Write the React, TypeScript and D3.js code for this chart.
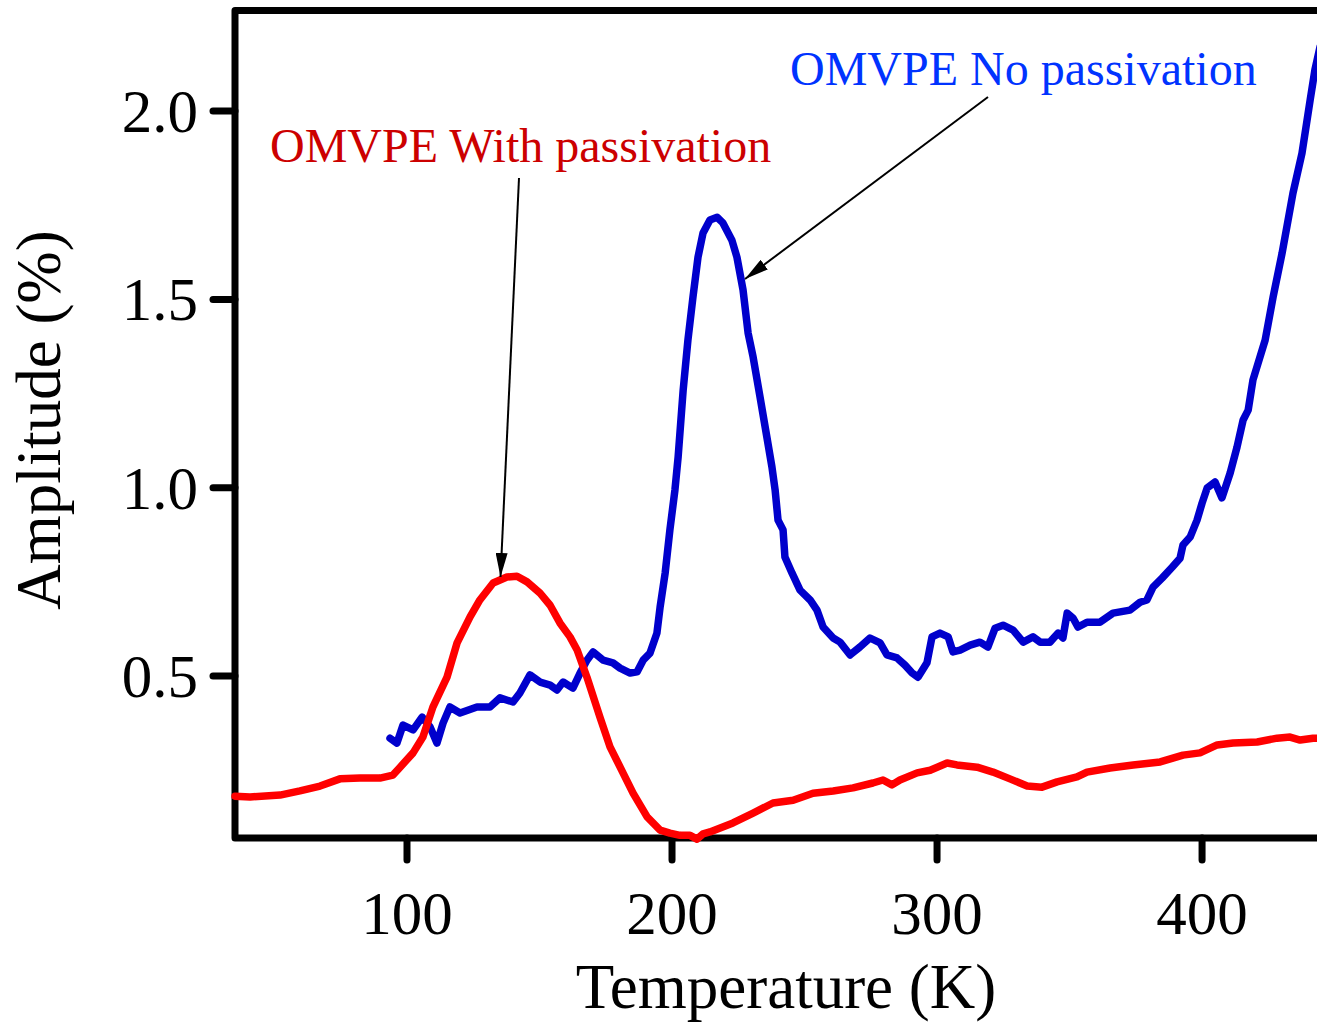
import React from "react";
import * as d3 from "d3";

// Temperature (K) and amplitude (%) for the sample WITH passivation (red)
const withT = [35.1, 40.8, 52.1, 59.6, 67.2, 74.7, 82.3, 89.8, 94.7, 97.4, 102.3, 106.0, 109.8, 115.1, 118.9, 123.8, 127.5, 132.5, 137.7, 141.5, 145.3, 150.2, 154.0, 157.7, 161.5, 164.2, 167.9, 172.8, 176.6, 181.5, 185.3, 190.6, 195.5, 199.2, 203.0, 206.8, 209.4, 211.7, 214.3, 223.0, 230.6, 238.1, 245.7, 253.2, 260.8, 268.3, 275.8, 279.6, 283.0, 286.0, 292.5, 297.4, 303.8, 307.5, 315.1, 321.1, 327.5, 334.0, 339.6, 345.3, 352.8, 356.6, 365.3, 374.0, 384.2, 392.8, 399.2, 405.7, 411.7, 420.8, 428.3, 433.2, 437.0, 441.9, 445.0];
const withA = [0.181, 0.179, 0.184, 0.195, 0.208, 0.227, 0.229, 0.229, 0.237, 0.258, 0.296, 0.338, 0.418, 0.497, 0.588, 0.657, 0.702, 0.747, 0.763, 0.765, 0.750, 0.720, 0.688, 0.641, 0.604, 0.569, 0.497, 0.391, 0.312, 0.243, 0.189, 0.126, 0.091, 0.083, 0.077, 0.077, 0.067, 0.081, 0.086, 0.110, 0.136, 0.163, 0.170, 0.189, 0.195, 0.203, 0.216, 0.224, 0.211, 0.224, 0.243, 0.250, 0.269, 0.264, 0.258, 0.245, 0.227, 0.208, 0.205, 0.219, 0.232, 0.245, 0.256, 0.264, 0.272, 0.290, 0.296, 0.317, 0.322, 0.325, 0.335, 0.338, 0.330, 0.335, 0.335];

// Temperature (K) and amplitude (%) for the sample with NO passivation (blue)
const noT = [93.6, 96.2, 98.5, 102.3, 105.7, 108.7, 111.3, 113.6, 116.2, 120.0, 126.4, 131.3, 135.1, 140.0, 142.6, 146.4, 150.2, 154.0, 156.6, 158.9, 162.6, 165.3, 167.9, 170.2, 174.0, 177.7, 180.4, 184.2, 186.8, 189.1, 191.7, 194.3, 195.5, 197.4, 199.2, 201.1, 202.3, 204.2, 206.0, 207.9, 209.8, 211.7, 214.3, 217.0, 219.2, 222.6, 224.5, 226.8, 228.7, 230.6, 233.2, 235.8, 237.7, 238.9, 240.0, 241.9, 242.6, 245.3, 248.3, 252.1, 254.7, 257.0, 260.8, 263.4, 267.2, 270.9, 274.7, 278.5, 281.1, 284.9, 287.9, 290.6, 292.8, 296.2, 298.1, 301.1, 304.2, 306.0, 308.7, 312.5, 316.2, 319.2, 321.9, 324.9, 328.7, 332.5, 336.2, 338.9, 342.6, 345.7, 347.5, 349.1, 351.3, 353.2, 356.6, 361.5, 366.4, 372.8, 376.6, 379.2, 381.5, 384.9, 388.7, 391.7, 392.8, 395.5, 398.1, 400.0, 401.9, 404.9, 407.5, 410.6, 413.2, 415.5, 417.4, 419.2, 423.8, 426.8, 430.2, 434.3, 437.7, 440.8, 442.6, 444.5];
const noA = [0.335, 0.322, 0.370, 0.357, 0.391, 0.365, 0.322, 0.375, 0.418, 0.402, 0.418, 0.418, 0.442, 0.431, 0.455, 0.503, 0.484, 0.476, 0.463, 0.484, 0.468, 0.508, 0.542, 0.564, 0.542, 0.535, 0.521, 0.508, 0.511, 0.542, 0.561, 0.614, 0.683, 0.773, 0.888, 0.994, 1.081, 1.259, 1.392, 1.506, 1.612, 1.676, 1.711, 1.718, 1.703, 1.657, 1.612, 1.525, 1.411, 1.347, 1.241, 1.134, 1.055, 0.994, 0.914, 0.888, 0.816, 0.773, 0.728, 0.702, 0.675, 0.630, 0.601, 0.590, 0.556, 0.577, 0.601, 0.588, 0.556, 0.548, 0.529, 0.508, 0.497, 0.535, 0.604, 0.614, 0.604, 0.564, 0.569, 0.582, 0.590, 0.577, 0.627, 0.635, 0.622, 0.590, 0.604, 0.590, 0.590, 0.614, 0.601, 0.667, 0.654, 0.630, 0.643, 0.643, 0.667, 0.675, 0.696, 0.702, 0.736, 0.760, 0.789, 0.813, 0.848, 0.869, 0.914, 0.959, 0.999, 1.015, 0.973, 1.039, 1.108, 1.180, 1.206, 1.286, 1.392, 1.506, 1.623, 1.782, 1.888, 2.030, 2.110, 2.170];

const xTicks = [100, 200, 300, 400];
const yTicks = [0.5, 1.0, 1.5, 2.0];
const xLabel = "Temperature (K)";
const yLabel = "Amplitude (%)";
const noLabel = "OMVPE No passivation";
const withLabel = "OMVPE With passivation";

export default function App() {
  const W = 1317, H = 1023;
  const left = 235, right = 1320, top = 10.5, bottom = 838;
  const x = d3.scaleLinear().domain([35.1, 444.5]).range([left, right]);
  const y = d3.scaleLinear().domain([0.07, 2.267]).range([bottom, top]);
  const font = "'Liberation Serif', 'Times New Roman', serif";

  const line = d3
    .line<[number, number]>()
    .x((d) => x(d[0]))
    .y((d) => y(d[1]));
  const withPts = withT.map((t, i) => [t, withA[i]] as [number, number]);
  const noPts = noT.map((t, i) => [t, noA[i]] as [number, number]);

  return (
    <svg
      width={W}
      height={H}
      style={{ position: "absolute", left: 0, top: 0, background: "#fff" }}
    >
      <defs>
        <marker id="ah" viewBox="0 0 24 12" refX="24" refY="6" markerWidth="24" markerHeight="12" markerUnits="userSpaceOnUse" orient="auto">
          <path d="M0,0 L24,6 L0,12 Z" fill="#000" />
        </marker>
      </defs>
      {/* frame */}
      <path
        d={`M${right + 20},${top} L${left},${top} L${left},${bottom} L${right + 20},${bottom}`}
        fill="none"
        stroke="#000"
        strokeWidth={7}
        strokeLinejoin="round"
      />
      {xTicks.map((t) => (
        <g key={"xt" + t}>
          <line x1={x(t)} x2={x(t)} y1={bottom} y2={bottom + 22} stroke="#000" strokeWidth={7} strokeLinecap="round" />
          <text x={x(t)} y={934} textAnchor="middle" fontFamily={font} fontSize={61} fill="#000">
            {t}
          </text>
        </g>
      ))}
      {yTicks.map((t) => (
        <g key={"yt" + t}>
          <line x1={left - 22} x2={left} y1={y(t)} y2={y(t)} stroke="#000" strokeWidth={7} strokeLinecap="round" />
          <text x={198} y={y(t) + 21} textAnchor="end" fontFamily={font} fontSize={61} fill="#000">
            {t.toFixed(1)}
          </text>
        </g>
      ))}
      <text x={786} y={1008} textAnchor="middle" fontFamily={font} fontSize={63} fill="#000">
        {xLabel}
      </text>
      <text
        transform="translate(60,420) rotate(-90)"
        textAnchor="middle"
        fontFamily={font}
        fontSize={63}
        fill="#000"
      >
        {yLabel}
      </text>

      {/* data */}
      <path d={line(noPts) || ""} fill="none" stroke="#0000cc" strokeWidth={7.5} strokeLinejoin="round" strokeLinecap="round" />
      <path d={line(withPts) || ""} fill="none" stroke="#ff0000" strokeWidth={7.5} strokeLinejoin="round" strokeLinecap="round" />

      {/* annotations */}
      <text x={790} y={85} fontFamily={font} fontSize={48} fill="#0033ff">
        {noLabel}
      </text>
      <text x={270} y={162} fontFamily={font} fontSize={48} fill="#cc0000">
        {withLabel}
      </text>
      <line x1={988} y1={97} x2={745} y2={279} stroke="#000" strokeWidth={2} markerEnd="url(#ah)" />
      <line x1={519} y1={178} x2={500.5} y2={577} stroke="#000" strokeWidth={2} markerEnd="url(#ah)" />
    </svg>
  );
}
